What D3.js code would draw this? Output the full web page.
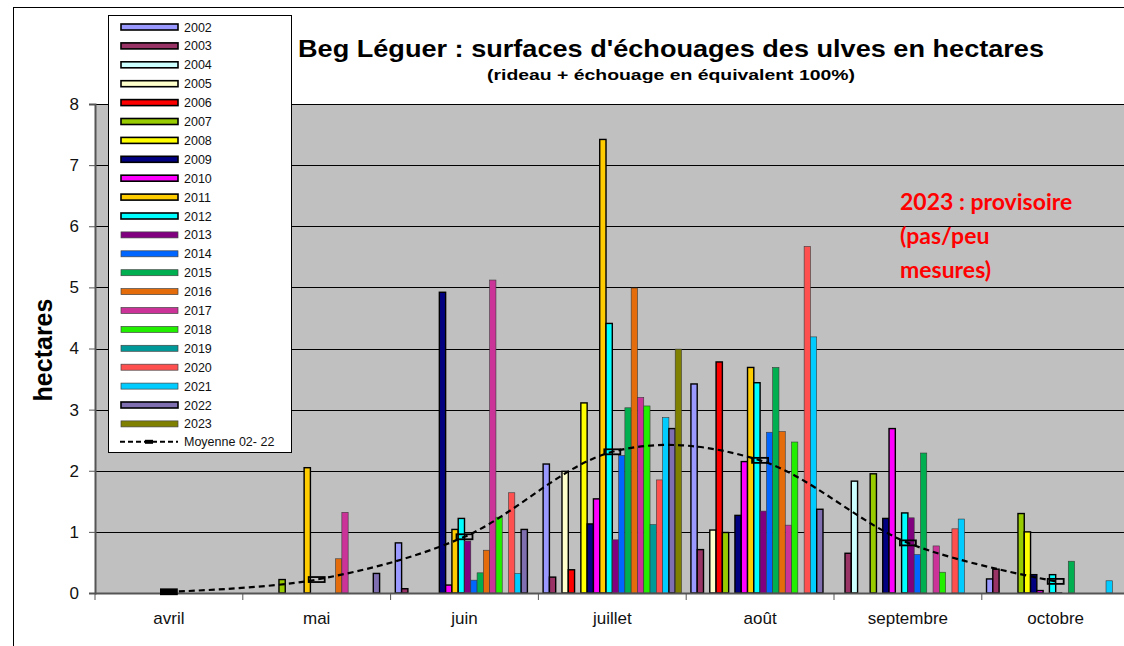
<!DOCTYPE html>
<html><head><meta charset="utf-8">
<script src="https://cdn.jsdelivr.net/npm/d3@7/dist/d3.min.js"></script>
<style>body{margin:0;background:#fff}svg{display:block}</style>
</head><body>
<svg id="chart" width="1124" height="646"></svg>
<script>
const months = ["avril","mai","juin","juillet","août","septembre","octobre"];
const years = ["2002","2003","2004","2005","2006","2007","2008","2009","2010","2011","2012","2013","2014","2015","2016","2017","2018","2019","2020","2021","2022","2023"];
const avril     = [0,0,0,0,0,0,0,0,0,0,0,0,0,0,0,0,0,0,0,0,0,0];
const mai       = [0,0,0,0,0,0.22,0,0,0,2.05,0,0,0,0,0.56,1.32,0,0,0,0,0.32,0];
const juin      = [0.82,0.07,0,0,0,0,0,4.92,0.13,1.04,1.22,0.85,0.21,0.33,0.70,5.12,1.24,0,1.64,0.32,1.04,0];
const juillet   = [2.11,0.26,0,1.99,0.38,0,3.11,1.13,1.54,7.42,4.41,0.87,2.25,3.03,4.99,3.20,3.06,1.12,1.85,2.87,2.69,3.99];
const aout      = [3.42,0.71,0,1.03,3.78,0.99,0,1.27,2.15,3.69,3.44,1.34,2.63,3.69,2.64,1.11,2.47,0,5.67,4.19,1.37,0];
const septembre = [0,0.65,1.83,0,0,1.95,0,1.22,2.69,0,1.31,1.23,0.63,2.29,0,0.77,0.34,0,1.05,1.21,0,0];
const octobre   = [0.23,0.39,0,0,0,1.30,1.00,0.30,0.04,0,0.30,0.01,0,0.52,0,0,0,0,0,0.20,0,0];
const moyenne   = [0.02,0.22,0.92,2.31,2.17,0.82,0.19];
const yTicks = [0,1,2,3,4,5,6,7,8];

const colors = ["#9999ff","#993366","#ccffff","#ffffcc","#ff0000","#99cc00","#ffff00","#000080","#ff00ff","#ffcc00","#00ffff","#800080","#0066ff","#00b050","#e46c0a","#cc3399","#22ee00","#009999","#ff5050","#00ccff","#7f6fb0","#808000"];
const heavy = new Set(["2002","2003","2004","2005","2006","2007","2008","2009","2010","2011","2012","2022"]);
const monthValues = [avril, mai, juin, juillet, aout, septembre, octobre];

const svg = d3.select("#chart");
const pLeft = 95, pStep = 147.8, pTop = 104, pBottom = 593;
const pRight = pLeft + pStep*months.length;
const x0 = d3.scaleBand().domain(months).range([pLeft, pRight]).padding(0);
const x1 = d3.scaleBand().domain(years).range([0, x0.bandwidth()]).paddingInner(0).paddingOuter(0.75);
const y = d3.scaleLinear().domain([0,8]).range([pBottom, pTop]);
const color = d3.scaleOrdinal().domain(years).range(colors);
const FONT = "Liberation Sans, Arial, sans-serif";

// outer chart border
svg.append("rect").attr("x",13.5).attr("y",7.5).attr("width",1200).attr("height",700)
  .attr("fill","#fff").attr("stroke","#000").attr("stroke-width",1);

// plot area
svg.append("rect").attr("x",pLeft).attr("y",pTop).attr("width",pRight-pLeft).attr("height",pBottom-pTop).attr("fill","#c0c0c0");

// gridlines
svg.append("g").selectAll("line").data(yTicks.filter(d=>d>0)).join("line")
  .attr("x1",pLeft).attr("x2",pRight)
  .attr("y1",d=>Math.round(y(d))+0.5).attr("y2",d=>Math.round(y(d))+0.5)
  .attr("stroke","#000").attr("stroke-width",1);

// bars
const g = svg.append("g");
months.forEach((m, mi) => {
  const vals = monthValues[mi];
  g.append("g").attr("transform",`translate(${x0(m)},0)`)
    .selectAll("rect").data(years.map((yr,i)=>({yr, v: vals[i]})).filter(d=>d.v>0)).join("rect")
    .attr("x",d=>x1(d.yr)).attr("width",x1.bandwidth())
    .attr("y",d=>y(d.v)).attr("height",d=>y(0)-y(d.v))
    .attr("fill",d=>color(d.yr))
    .attr("stroke",d=>heavy.has(d.yr)?"#000":"#3a3a3a")
    .attr("stroke-width",d=>heavy.has(d.yr)?1.4:0.6);
});

// axes
const yAxis = d3.axisLeft(y).tickValues(yTicks).tickSize(6).tickPadding(10).tickFormat(d3.format("d"));
const ya = svg.append("g").attr("transform",`translate(${pLeft},0)`).call(yAxis);
ya.select(".domain").attr("stroke","#555").attr("stroke-width",2);
ya.selectAll(".tick line").attr("stroke","#555");
ya.selectAll("text").attr("font-family",FONT).attr("font-size",17).attr("fill","#111");

const xa = svg.append("g").attr("transform",`translate(0,${pBottom})`);
xa.append("line").attr("x1",pLeft).attr("x2",pRight).attr("y1",0.5).attr("y2",0.5).attr("stroke","#555").attr("stroke-width",2);
xa.selectAll("line.tk").data(d3.range(months.length+1)).join("line").attr("class","tk")
  .attr("x1",i=>pLeft+i*pStep).attr("x2",i=>pLeft+i*pStep).attr("y1",0).attr("y2",7).attr("stroke","#555");
xa.selectAll("text").data(months).join("text")
  .attr("x",d=>x0(d)+x0.bandwidth()/2).attr("y",31).attr("text-anchor","middle")
  .attr("font-family",FONT).attr("font-size",17).attr("fill","#111").text(d=>d);

// mean line
const cx = d=>x0(d)+x0.bandwidth()/2;
const line = d3.line().x((d,i)=>cx(months[i])).y(d=>y(d)).curve(d3.curveCardinal.tension(0));
svg.append("path").datum(moyenne).attr("d",line).attr("fill","none").attr("stroke","#000")
  .attr("stroke-width",2.2).attr("stroke-dasharray","6,4");
svg.append("g").selectAll("rect").data(moyenne).join("rect")
  .attr("x",(d,i)=>cx(months[i])-8).attr("y",d=>y(d)-2.5).attr("width",16).attr("height",5)
  .attr("fill",(d,i)=>i===0?"#000":"none").attr("stroke","#000").attr("stroke-width",1.8);

// y title
svg.append("text").attr("transform","translate(52,350) rotate(-90)").attr("text-anchor","middle")
  .attr("font-family",FONT).attr("font-weight","bold").attr("font-size",25).text("hectares");

// titles
svg.append("text").attr("x",671).attr("y",57).attr("text-anchor","middle")
  .attr("font-family",FONT).attr("font-weight","bold").attr("font-size",24)
  .attr("textLength",746).attr("lengthAdjust","spacingAndGlyphs")
  .text("Beg Léguer : surfaces d'échouages des ulves en hectares");
svg.append("text").attr("x",671).attr("y",80).attr("text-anchor","middle")
  .attr("font-family",FONT).attr("font-weight","bold").attr("font-size",15)
  .attr("textLength",368).attr("lengthAdjust","spacingAndGlyphs")
  .text("(rideau + échouage en équivalent 100%)");

// annotation
const ann = svg.append("text").attr("font-family","Lato, 'Open Sans', sans-serif").attr("font-weight","bold")
  .attr("font-size",23).attr("fill","#ff0000");
["2023 : provisoire","(pas/peu","mesures)"].forEach((t,i)=>{
  ann.append("tspan").attr("x",900).attr("y",210+i*34).text(t);
});

// legend
const lg = svg.append("g");
lg.append("rect").attr("x",108.5).attr("y",15.5).attr("width",183).attr("height",437).attr("fill","#fff").attr("stroke","#000").attr("stroke-width",1);
const rowY = i => 27 + i*18.9;
years.forEach((yr,i)=>{
  lg.append("rect").attr("x",121).attr("y",rowY(i)-3).attr("width",57).attr("height",6)
    .attr("fill",color(yr)).attr("stroke",heavy.has(yr)?"#000":"#444").attr("stroke-width",heavy.has(yr)?1.6:0.7);
  lg.append("text").attr("x",184).attr("y",rowY(i)+4.5).attr("font-family",FONT)
    .attr("font-size",12.5).attr("fill","#111").text(yr);
});
const my = rowY(22)-1;
lg.append("line").attr("x1",120).attr("x2",178).attr("y1",my).attr("y2",my).attr("stroke","#000").attr("stroke-width",2).attr("stroke-dasharray","5,3");
lg.append("rect").attr("x",145).attr("y",my-2).attr("width",8).attr("height",4).attr("fill","#000");
lg.append("text").attr("x",184).attr("y",my+4.5).attr("font-family",FONT)
  .attr("font-size",12.5).attr("fill","#111").text("Moyenne 02- 22");
</script>
</body></html>
